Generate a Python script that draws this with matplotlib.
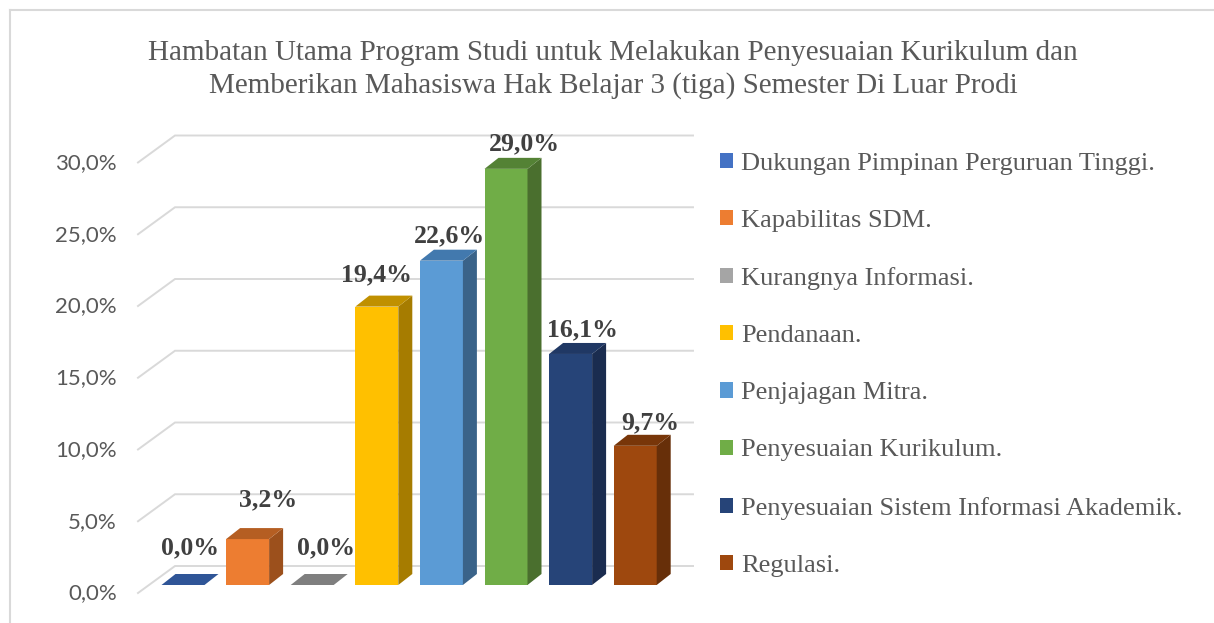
import matplotlib
matplotlib.use("Agg")
import matplotlib.pyplot as plt
from matplotlib.patches import Polygon, Patch
from matplotlib.lines import Line2D

# ---------------- data ----------------
categories = [
    "Dukungan Pimpinan Perguruan Tinggi.",
    "Kapabilitas SDM.",
    "Kurangnya Informasi.",
    "Pendanaan.",
    "Penjajagan Mitra.",
    "Penyesuaian Kurikulum.",
    "Penyesuaian Sistem Informasi Akademik.",
    "Regulasi.",
]
values = [0.0, 3.2, 0.0, 19.4, 22.6, 29.0, 16.1, 9.7]
yticks = [0, 5, 10, 15, 20, 25, 30]
title_lines = [
    "Hambatan Utama Program Studi untuk Melakukan Penyesuaian Kurikulum dan",
    "Memberikan Mahasiswa Hak Belajar 3 (tiga) Semester Di Luar Prodi",
]

# ---------------- styles ----------------
front_colors = ["#4472C4", "#ED7D31", "#A5A5A5", "#FFC000", "#5B9BD5", "#70AD47", "#264478", "#9E480E"]
top_colors = ["#2F5597", "#B55E22", "#7F7F7F", "#C09000", "#4279AE", "#548235", "#203864", "#783609"]
side_colors = ["#25457A", "#9C501C", "#6E6E6E", "#A67C00", "#3A6389", "#4A6F2E", "#1A2C4F", "#672F09"]
label_offsets_px = [(7, -37), (20, -39), (14, -37), (0, -32), (8, -25), (18, -25), (12, -24), (15, -23)]

W_PX, H_PX = 1214, 623
X0, XS = 183.0, 64.6      # pixel of category 0 center, pixels per category
Y0, YS = 585.0, 14.35     # pixel of value 0 (front), pixels per 1 %

def px_x(p):
    return (p - X0) / XS

def px_dy(p):
    return p / YS

fig = plt.figure(figsize=(W_PX / 100, H_PX / 100), dpi=100)
fig.patch.set_facecolor("white")
ax = fig.add_axes([0, 0, 1, 1])
ax.set_xlim(px_x(0), px_x(W_PX))
ax.set_ylim((Y0 - H_PX) / YS, Y0 / YS)
ax.axis("off")

# chart border (left and top)
fig.add_artist(Line2D([10 / W_PX, 10 / W_PX], [0, 1 - 10 / H_PX], transform=fig.transFigure, color="#D9D9D9", lw=1.5))
fig.add_artist(Line2D([10 / W_PX, 1], [1 - 10 / H_PX, 1 - 10 / H_PX], transform=fig.transFigure, color="#D9D9D9", lw=1.5))

# gridlines (side wall diagonal + back wall)
GX_A, GX_B, GX_C = px_x(138), px_x(175), px_x(693)
for v in yticks:
    ax.plot([GX_A, GX_B, GX_C], [v - px_dy(8), v + px_dy(19), v + px_dy(19)],
            color="#D9D9D9", lw=1.4, zorder=1, solid_joinstyle="miter")
    ax.text(px_x(117), v - px_dy(8.5), f"{v:.1f}%".replace(".", ","), ha="right", va="center",
            fontsize=16, family="Lato", color="#595959")

# bars with pseudo-3D faces
BW = 43 / XS
DX = 14 / XS
DY = 11 / YS
xs = list(range(len(values)))
ax.bar(xs, values, width=BW, color=front_colors, zorder=3, linewidth=0)
for i, v in zip(xs, values):
    l, r = i - BW / 2, i + BW / 2
    side = Polygon([(r, 0), (r + DX, DY), (r + DX, v + DY), (r, v)], closed=True,
                   facecolor=side_colors[i], edgecolor="none", zorder=3)
    top = Polygon([(l, v), (r, v), (r + DX, v + DY), (l + DX, v + DY)], closed=True,
                  facecolor=top_colors[i], edgecolor="none", zorder=4)
    ax.add_patch(side)
    ax.add_patch(top)
    ox, oy = label_offsets_px[i]
    ax.annotate(f"{v:.1f}%".replace(".", ","), xy=(i, v), xytext=(ox * 0.72, -oy * 0.72),
                textcoords="offset points", ha="center", va="center",
                fontsize=18.5, fontweight="bold", family="Liberation Serif", color="#404040", zorder=5)

# title
fig.text(613 / W_PX, 1 - 60 / H_PX, title_lines[0], ha="center", va="baseline",
         fontsize=21, family="Liberation Serif", color="#595959")
fig.text(613 / W_PX, 1 - 93 / H_PX, title_lines[1], ha="center", va="baseline",
         fontsize=21, family="Liberation Serif", color="#595959")

# legend
handles = [Patch(facecolor=c, edgecolor="none") for c in front_colors]
leg = fig.legend(handles, categories, loc="upper left", bbox_to_anchor=(720 / W_PX, 1 - 153 / H_PX),
                 frameon=False, handlelength=0.5, handleheight=0.5, handletextpad=0.3,
                 labelspacing=1.33, borderpad=0, borderaxespad=0,
                 prop={"family": "Liberation Serif", "size": 19})
for t in leg.get_texts():
    t.set_color("#595959")

fig.savefig("out.png", dpi=100, facecolor="white")
